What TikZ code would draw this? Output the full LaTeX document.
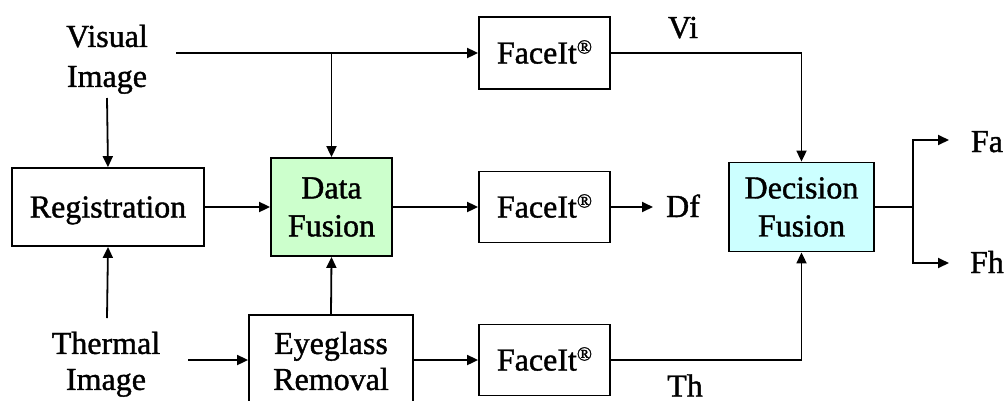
\documentclass[tikz,border=0pt]{standalone}
\usepackage{fontspec}
\setmainfont{Liberation Serif}
\newfontfamily\diagfont{Liberation Serif}[RawFeature={embolden=1.2}]
\usetikzlibrary{arrows.meta}
\newcommand{\regmark}{\raisebox{10pt}{\fontsize{20}{20}\selectfont ®}}
\definecolor{dfgreen}{HTML}{CCFFCC}
\definecolor{dccyan}{HTML}{CCFFFF}
\begin{document}
\begin{tikzpicture}[x=1pt,y=-1pt,
  every node/.style={font=\diagfont\fontsize{32}{38}\selectfont},
  box/.style={draw, line width=1.8pt, inner sep=0pt, align=center},
  txt/.style={inner sep=0pt, align=center},
  conn/.style={line width=1.8pt},
  arr/.style={line width=1.8pt, -{Triangle[length=11pt,width=10pt]}}]
\useasboundingbox (0,0) rectangle (1006,400);
% boxes
\node[box, minimum width=192pt, minimum height=78pt, text height=21pt, text depth=0pt] (reg) at (108,207) {Registration};
\node[box, fill=dfgreen, minimum width=121pt, minimum height=98pt] (df) at (331.5,207) {Data\\Fusion};
\node[box, minimum width=131pt, minimum height=72pt, text height=21pt, text depth=0pt] (f1) at (544.5,53) {FaceIt\regmark};
\node[box, minimum width=131pt, minimum height=71pt, text height=21pt, text depth=0pt] (f2) at (544.5,207) {FaceIt\regmark};
\node[box, minimum width=131pt, minimum height=71pt, text height=21pt, text depth=0pt] (f3) at (544.5,360) {FaceIt\regmark};
\node[box, fill=dccyan, minimum width=145pt, minimum height=89pt] (dec) at (801.5,207) {Decision\\Fusion};
\node[box, minimum width=164pt, minimum height=92pt, font=\diagfont\fontsize{32}{36}\selectfont] (eye) at (331,361) {Eyeglass\\Removal};
% free texts
\node[txt, anchor=north, font=\diagfont\fontsize{32}{40}\selectfont] (vis) at (107,24.5) {Visual\\Image};
\node[txt, anchor=north, font=\diagfont\fontsize{32}{36}\selectfont] (therm) at (106,331.5) {Thermal\\Image};
\node[txt, anchor=base] (vi) at (683,38) {Vi};
\node[txt, anchor=base] (dfl) at (683,217) {Df};
\node[txt, anchor=base] (th) at (685,396.5) {Th};
\node[txt, anchor=base] (fa) at (987,152) {Fa};
\node[txt, anchor=base] (fh) at (987,273) {Fh};
% connector ends
\coordinate (visR) at (176,53);
\coordinate (visB) at (107,98);
\coordinate (thT) at (107,318);
\coordinate (thR) at (188,360);
\coordinate (dfE) at (653,207);
\coordinate (split) at (913,207);
\coordinate (faE) at (949,140);
\coordinate (fhE) at (949,263);
% connectors
\draw[arr] (visR) -- (f1.west |- visR);
\draw[arr] (df.north |- visR) -- (df.north);
\draw[arr] (visB) -- (reg.north);
\draw[arr] (thT) -- (reg.south);
\draw[arr] (thR) -- (eye.west |- thR);
\draw[arr] (reg.east) -- (df.west);
\draw[arr] (df.east) -- (f2.west);
\draw[arr] (eye.north) -- (df.south);
\draw[arr] (eye.east |- f3.west) -- (f3.west);
\draw[arr] (f2.east) -- (dfE);
\draw[arr] (f1.east) -| (dec.north);
\draw[arr] (f3.east) -| (dec.south);
\draw[conn] (dec.east) -- (split);
\draw[arr] (split) |- (faE);
\draw[arr] (split) |- (fhE);
\end{tikzpicture}
\end{document}
